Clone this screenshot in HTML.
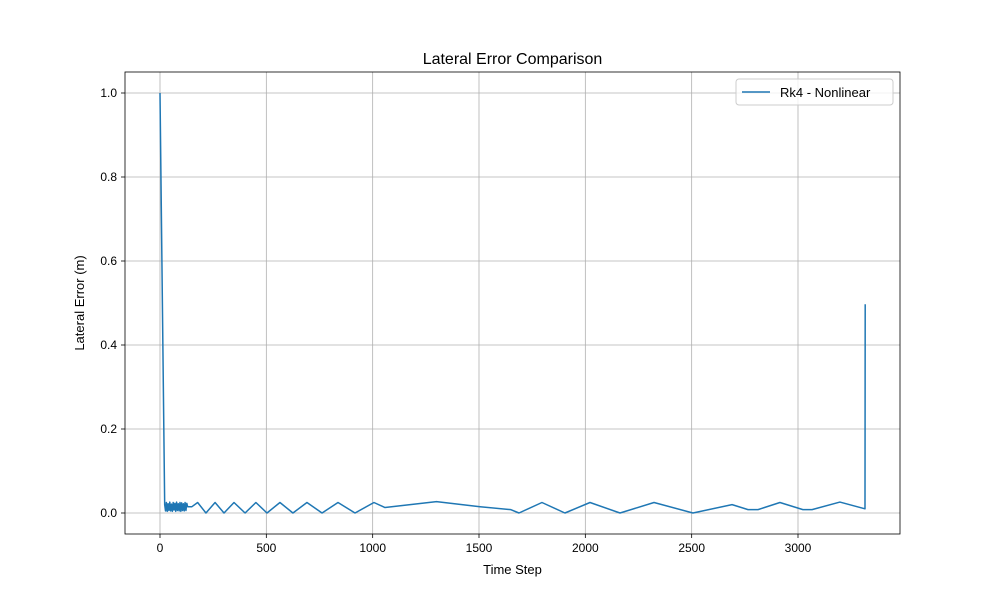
<!DOCTYPE html>
<html><head><meta charset="utf-8"><style>
body{margin:0;background:#fff;font-family:"Liberation Sans","DejaVu Sans",sans-serif}
</style></head><body>
<svg id="chart" width="1000" height="600" xmlns="http://www.w3.org/2000/svg">
<rect width="1000" height="600" fill="#fff"/>
<g id="grid"></g>
<g id="plot"></g>
<rect x="125" y="72" width="775" height="462" fill="none" stroke="#000" stroke-width="0.8"/>
<g id="ticks" font-size="12" fill="#000"></g>
<text x="512.5" y="64" text-anchor="middle" font-size="16">Lateral Error Comparison</text>
<text x="512.5" y="574" text-anchor="middle" font-size="13">Time Step</text>
<text transform="translate(84,303) rotate(-90)" text-anchor="middle" font-size="13">Lateral Error (m)</text>
<g>
<rect x="736" y="79" width="157" height="26" rx="3" fill="#fff" fill-opacity="0.8" stroke="#ccc"/>
<line x1="742" y1="92" x2="770" y2="92" stroke="#1f77b4" stroke-width="1.5"/>
<text x="780" y="97" font-size="13">Rk4 - Nonlinear</text>
</g>
</svg>
<script>
const xTicks=[0,500,1000,1500,2000,2500,3000];
const yTicks=[0.0,0.2,0.4,0.6,0.8,1.0];
const xs=[0,22,26,30,34,38,42,46,50,54,58,62,66,70,74,78,82,86,90,94,98,102,106,110,114,118,122,126,130,150,177,216,259,301,348,400,451,503,564,625,691,762,837,917,1006,1058,1300,1505,1650,1688,1796,1904,2022,2163,2323,2506,2690,2765,2812,2915,3023,3066,3197,3315,3316];
const ys=[1.0,0.02,0.005,0.025,0.004,0.022,0.006,0.026,0.005,0.021,0.004,0.025,0.007,0.023,0.004,0.026,0.006,0.022,0.005,0.025,0.004,0.024,0.006,0.022,0.005,0.025,0.006,0.023,0.015,0.015,0.025,0.0,0.025,0.0,0.025,0.0,0.025,0.0,0.025,0.0,0.025,0.0,0.025,0.0,0.025,0.013,0.027,0.015,0.008,0.0,0.025,0.0,0.025,0.0,0.025,0.0,0.02,0.008,0.008,0.025,0.008,0.008,0.026,0.01,0.497];
const X=v=>160+v*638/3000, Y=v=>513-v*420;
const NS='http://www.w3.org/2000/svg';
const grid=document.getElementById('grid'),ticks=document.getElementById('ticks'),plot=document.getElementById('plot');
function mk(t,a,p){const e=document.createElementNS(NS,t);for(const k in a)e.setAttribute(k,a[k]);p.appendChild(e);return e;}
xTicks.forEach(v=>{const x=X(v);
const g=mk('line',{x1:x,x2:x,y1:72,y2:534,stroke:'#b0b0b0','stroke-width':0.8},grid);


mk('line',{x1:x,x2:x,y1:534,y2:538,stroke:'#000','stroke-width':0.8},ticks);
const t=mk('text',{x:x,y:552,'text-anchor':'middle'},ticks);t.textContent=v;

});
yTicks.forEach(v=>{const y=Y(v);
const g=mk('line',{x1:125,x2:900,y1:y,y2:y,stroke:'#b0b0b0','stroke-width':0.8},grid);


mk('line',{x1:121,x2:125,y1:y,y2:y,stroke:'#000','stroke-width':0.8},ticks);
const t=mk('text',{x:117,y:y+4,'text-anchor':'end'},ticks);t.textContent=v.toFixed(1);

});
const p=mk('path',{d:xs.map((v,i)=>(i?'L':'M')+X(v).toFixed(2)+','+Y(ys[i]).toFixed(2)).join(''),fill:'none',stroke:'#1f77b4','stroke-width':1.5,'stroke-linejoin':'round'},plot);


</script>
</body></html>
